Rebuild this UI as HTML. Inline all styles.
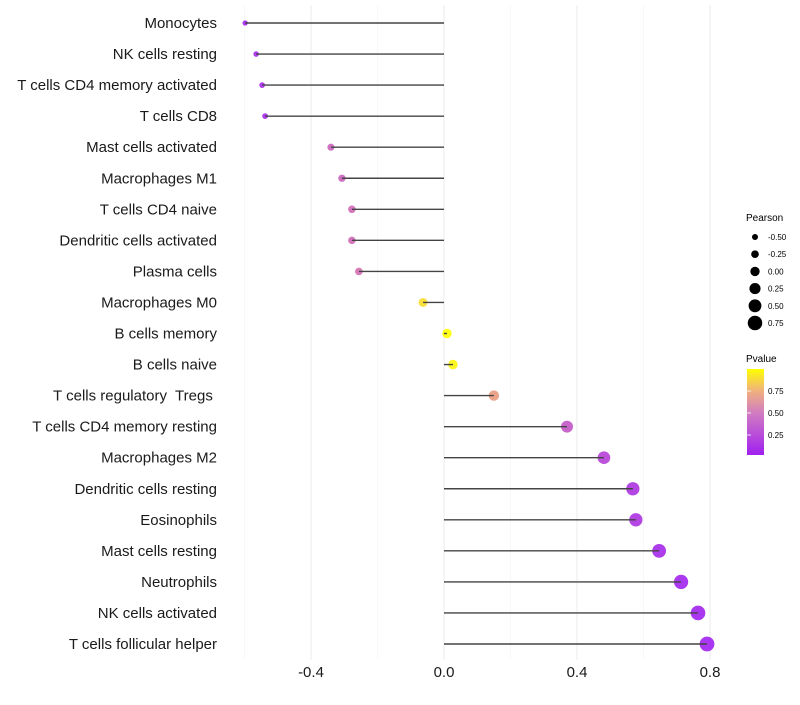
<!DOCTYPE html>
<html><head><meta charset="utf-8"><style>
body{margin:0;background:#fff;font-family:"Liberation Sans",sans-serif}
</style></head><body>
<svg id="chart" width="800" height="700" style="font-family:'Liberation Sans',sans-serif">
<defs><linearGradient id="pg" x1="0" y1="1" x2="0" y2="0">
<stop offset="0" stop-color="#a020f0"/><stop offset="0.5" stop-color="#d27ec0"/><stop offset="0.75" stop-color="#f0b27c"/><stop offset="1" stop-color="#ffff00"/></linearGradient></defs>
<g id="grid"></g><g id="marks"></g><g id="stems"></g><g id="labels"></g>
<g>
<text x="746" y="221" font-size="10">Pearson</text>
<g id="sizeleg"></g></g>
<g>
<text x="746" y="362" font-size="10">Pvalue</text>
<rect x="747" y="369" width="17" height="86" fill="url(#pg)"/>
<g id="colleg"></g></g>
</svg>
<script>
const categories=["Monocytes","NK cells resting","T cells CD4 memory activated","T cells CD8","Mast cells activated","Macrophages M1","T cells CD4 naive","Dendritic cells activated","Plasma cells","Macrophages M0","B cells memory","B cells naive","T cells regulatory  Tregs ","T cells CD4 memory resting","Macrophages M2","Dendritic cells resting","Eosinophils","Mast cells resting","Neutrophils","NK cells activated","T cells follicular helper"];
const pearson=[-0.598,-0.565,-0.547,-0.538,-0.34,-0.307,-0.277,-0.277,-0.256,-0.063,0.009,0.027,0.15,0.37,0.481,0.568,0.577,0.647,0.713,0.764,0.791];
const pvalue=[0.02,0.05,0.05,0.05,0.4,0.4,0.45,0.45,0.5,0.9,1.0,0.97,0.68,0.33,0.2,0.12,0.12,0.05,0.02,0.01,0.005];
const xTicks=[-0.4,0,0.4,0.8];
const xTickLabels=["-0.4","0.0","0.4","0.8"];
const minorTicks=[-0.6,-0.2,0.2,0.6];
const sizeLegVals=[-0.5,-0.25,0,0.25,0.5,0.75];
const sizeLegLabels=["-0.50","-0.25","0.00","0.25","0.50","0.75"];
const colTicks=[0.25,0.5,0.75];
const colTickLabels=["0.25","0.50","0.75"];
const NS="http://www.w3.org/2000/svg";
const x=v=>444+v*332.5;
const y=i=>23+i*31.05;
const r=v=>4.7+3.4*v;
const cy=p=>457-p*88;
function lerp(a,b,t){return a.map((c,i)=>Math.round(c+(b[i]-c)*t));}
function col(p){const s=[[0,[160,32,240]],[0.5,[212,112,176]],[0.75,[240,170,110]],[1,[255,255,0]]];
 p=Math.max(0,Math.min(1,p));for(let k=1;k<s.length;k++){if(p<=s[k][0]){const t=(p-s[k-1][0])/(s[k][0]-s[k-1][0]);return "rgb("+lerp(s[k-1][1],s[k][1],t).join(",")+")";}}return "rgb(255,255,0)";}
function mk(t,a,p){const e=document.createElementNS(NS,t);for(const k in a)e.setAttribute(k,a[k]);(p||document.getElementById("chart")).appendChild(e);return e;}
const grid=document.getElementById("grid"),marks=document.getElementById("marks"),stems=document.getElementById("stems"),labels=document.getElementById("labels");
minorTicks.forEach(v=>{const l=mk("line",{x1:x(v),x2:x(v),y1:5,y2:660,stroke:"#f3f3f3","stroke-width":0.6},grid);

});
xTicks.forEach((v,i)=>{const l=mk("line",{x1:x(v),x2:x(v),y1:5,y2:660,stroke:"#ebebeb","stroke-width":1},grid);


const t=mk("text",{x:x(v),y:677,"font-size":15,"text-anchor":"middle",fill:"#1a1a1a"},labels);t.textContent=xTickLabels[i];

});
categories.forEach((c,i)=>{const t=mk("text",{x:217,y:y(i)+5,"font-size":15,"text-anchor":"end",fill:"#1a1a1a",style:"white-space:pre"},labels);t.textContent=c;


const d=mk("circle",{cx:x(pearson[i]),cy:y(i),r:r(pearson[i]),fill:col(pvalue[i]),"fill-opacity":0.9},marks);


const s=mk("line",{x1:x(0),x2:x(pearson[i]),y1:y(i),y2:y(i),stroke:"#444","stroke-width":1.4},stems);

});
const sl=document.getElementById("sizeleg");
sizeLegVals.forEach((v,i)=>{const yy=237+i*17.2;const c=mk("circle",{cx:755,cy:yy,r:r(v),fill:"#000"},sl);


const t=mk("text",{x:768,y:yy+3,"font-size":8},sl);t.textContent=sizeLegLabels[i];

});
const cl=document.getElementById("colleg");
colTicks.forEach((v,i)=>{const l=mk("line",{x1:747,x2:751,y1:cy(v),y2:cy(v),stroke:"#fff","stroke-width":0.8},cl);


const t=mk("text",{x:768,y:cy(v)+3,"font-size":8},cl);t.textContent=colTickLabels[i];

});
</script>
</body></html>
